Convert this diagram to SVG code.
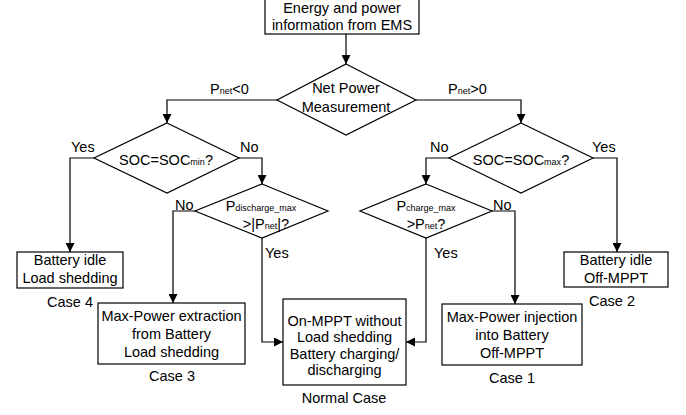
<svg xmlns="http://www.w3.org/2000/svg" width="686" height="415" viewBox="0 0 686 415">
<defs>
<marker id="arr" viewBox="0 0 10 10" refX="10" refY="5" markerWidth="9" markerHeight="9" markerUnits="userSpaceOnUse" orient="auto">
<path d="M0,0 L10,5 L0,10 z" fill="#000"/>
</marker>
<style>
text{font-family:"Liberation Sans",Arial,sans-serif;font-size:14.5px;fill:#000}
.m{text-anchor:middle}
.s{font-size:9px}
.box{fill:#fff;stroke:#000;stroke-width:1.2}
.ln{fill:none;stroke:#000;stroke-width:1.2}
.ar{fill:none;stroke:#000;stroke-width:1.2;marker-end:url(#arr)}
</style>
</defs>
<rect width="686" height="415" fill="#fff"/>
<g id="connectors">
<path class="ar" d="M346,34 V64"/>
<path class="ar" d="M277,100 H167 V123"/>
<path class="ar" d="M416,100 H521 V123"/>
<path class="ar" d="M94,158 H70 V252"/>
<path class="ar" d="M239,158 H262 V184"/>
<path class="ar" d="M195,211 H173 V303"/>
<path class="ar" d="M262,238 V342 H283"/>
<path class="ar" d="M449,158 H426 V184"/>
<path class="ar" d="M593,158 H617 V252"/>
<path class="ar" d="M492,211 H515 V304"/>
<path class="ar" d="M426,238 V342 H406"/>
<text x="210" y="94">P<tspan class="s">net</tspan>&lt;0</text>
<text x="448" y="94">P<tspan class="s">net</tspan>&gt;0</text>
<text x="71" y="152">Yes</text>
<text x="240" y="152">No</text>
<text x="430" y="152">No</text>
<text x="592" y="152">Yes</text>
<text x="175" y="210">No</text>
<text x="493" y="210">No</text>
<text x="265" y="258">Yes</text>
<text x="434" y="258">Yes</text>
</g>
<g id="start">
<rect class="box" x="265" y="-1" width="154" height="35"/>
<text class="m" x="342" y="13">Energy and power</text>
<text class="m" x="342" y="30">information from EMS</text>
</g>
<g id="netpower">
<path class="box" d="M346,64 L416,100 L346,135 L277,100 z"/>
<text class="m" x="346" y="93">Net Power</text>
<text class="m" x="346" y="112">Measurement</text>
</g>
<g id="socmin">
<path class="box" d="M167,123 L239,158 L167,193 L94,158 z"/>
<text class="m" x="166" y="165">SOC=SOC<tspan class="s">min</tspan>?</text>
</g>
<g id="socmax">
<path class="box" d="M521,123 L593,158 L521,193 L449,158 z"/>
<text class="m" x="521" y="165">SOC=SOC<tspan class="s">max</tspan>?</text>
</g>
<g id="pdischarge">
<path class="box" d="M262,184 L328,211 L262,238 L195,211 z"/>
<text class="m" x="261" y="211">P<tspan class="s">discharge_max</tspan></text>
<text class="m" x="266" y="229">&gt;|P<tspan class="s">net</tspan>|?</text>
</g>
<g id="pcharge">
<path class="box" d="M426,184 L492,211 L426,238 L360,211 z"/>
<text class="m" x="426" y="211">P<tspan class="s">charge_max</tspan></text>
<text class="m" x="426" y="229">&gt;P<tspan class="s">net</tspan>?</text>
</g>
<g id="case4">
<rect class="box" x="17" y="252" width="106" height="36"/>
<text class="m" x="70" y="265">Battery idle</text>
<text class="m" x="70" y="283">Load shedding</text>
<text class="m" x="70" y="307">Case 4</text>
</g>
<g id="case3">
<rect class="box" x="98" y="303" width="147" height="61"/>
<text class="m" x="171.5" y="321">Max-Power extraction</text>
<text class="m" x="171.5" y="339">from Battery</text>
<text class="m" x="171.5" y="357">Load shedding</text>
<text class="m" x="172" y="381">Case 3</text>
</g>
<g id="normal">
<rect class="box" x="283" y="299" width="123" height="86"/>
<text class="m" x="344.5" y="326">On-MPPT without</text>
<text class="m" x="344.5" y="342">Load shedding</text>
<text class="m" x="344.5" y="358.5">Battery charging/</text>
<text class="m" x="344.5" y="375">discharging</text>
<text class="m" x="344" y="403">Normal Case</text>
</g>
<g id="case1">
<rect class="box" x="442" y="304" width="140" height="61"/>
<text class="m" x="512" y="322">Max-Power injection</text>
<text class="m" x="512" y="340">into Battery</text>
<text class="m" x="512" y="358">Off-MPPT</text>
<text class="m" x="512" y="383">Case 1</text>
</g>
<g id="case2">
<rect class="box" x="564" y="252" width="104" height="35"/>
<text class="m" x="616" y="265">Battery idle</text>
<text class="m" x="616" y="283">Off-MPPT</text>
<text class="m" x="612" y="306">Case 2</text>
</g>
</svg>
